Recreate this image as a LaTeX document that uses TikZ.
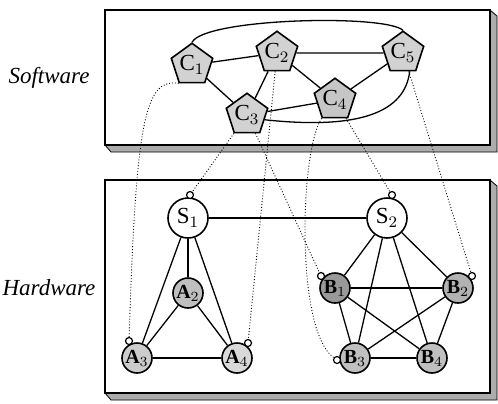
\documentclass[tikz,border=0pt]{standalone}
\usepackage{fontspec}
\setmainfont{Liberation Serif}
\usetikzlibrary{shapes.geometric}
\begin{document}
\begin{tikzpicture}[x=0.5pt,y=-0.5pt,
  comp/.style={regular polygon, regular polygon sides=5, draw, line width=0.8pt,
    fill=gray!35, minimum size=16pt, inner sep=0pt, font=\fontsize{11.5}{11.5}\selectfont},
  sw/.style={circle, draw, line width=0.8pt, fill=white, minimum size=20pt,
    inner sep=0pt, font=\fontsize{11.5}{11.5}\selectfont},
  hw/.style={circle, draw, line width=0.8pt, minimum size=15pt, inner sep=0pt,
    font=\fontsize{10}{10}\selectfont\bfseries},
  port/.style={circle, draw, line width=0.6pt, fill=white, minimum size=3.5pt, inner sep=0pt},
  link/.style={line width=0.65pt},
  map/.style={densely dotted, line width=0.45pt},
  layer/.style={draw, line width=0.8pt, fill=white},
  slab/.style={fill=gray!65, draw=black, line width=0.4pt},
  tag/.style={font=\fontsize{11.5}{13}\selectfont\itshape}
]
\useasboundingbox (0,0) rectangle (498,403);

% the two layers with their raised edges
\fill[slab] (105,145) -- (490,145) -- (490,10) -- (497,16) -- (497,152) -- (111,152) -- cycle;
\draw[layer] (105,10) rectangle (490,145);
\fill[slab] (105,393) -- (490,393) -- (490,180) -- (497,186) -- (497,400) -- (111,400) -- cycle;
\draw[layer] (105,180) rectangle (490,393);

\node[tag] (swlabel) at (49,78) {Software};
\node[tag] (hwlabel) at (49,288) {Hardware};

% software components
\node[comp] (C1) at (192,65) {C$_1$};
\node[comp] (C2) at (277,53) {C$_2$};
\node[comp] (C5) at (403,53) {C$_5$};
\node[comp, fill=gray!45] (C4) at (335,100) {C$_4$};
\node[comp] (C3) at (247,115) {C$_3$};

% hardware: switches and processing nodes
\node[sw] (S1) at (188,218) {S$_1$};
\node[sw] (S2) at (387,218) {S$_2$};
\node[hw, fill=gray!50] (A2) at (188,293) {A$_2$};
\node[hw, fill=gray!40] (A3) at (137,358) {A$_3$};
\node[hw, fill=gray!30] (A4) at (237,358) {A$_4$};
\node[hw, fill=gray!80] (B1) at (335,288) {B$_1$};
\node[hw, fill=gray!60] (B2) at (458,288) {B$_2$};
\node[hw, fill=gray!50] (B3) at (355,358) {B$_3$};
\node[hw, fill=gray!50] (B4) at (432,358) {B$_4$};

% ports
\node[port] (pS1) at (190,195) {};
\node[port] (pS2) at (392,195) {};
\node[port] (pA3) at (129,341) {};
\node[port] (pA4) at (248,343) {};
\node[port] (pB1) at (321,276) {};
\node[port] (pB2) at (472,276) {};
\node[port] (pB3) at (337,360) {};

% software links
\draw[link] (C1) -- (C2);
\draw[link] (C2) -- (C5);
\draw[link] (C1) -- (C3);
\draw[link] (C2) -- (C3);
\draw[link] (C2) -- (C4);
\draw[link] (C3) -- (C4);
\draw[link] (C4) -- (C5);
\draw[link] (C1.north) .. controls (205,18) and (385,14) .. (C5.north);
\draw[link] (C3.-15) .. controls (360,130) and (405,112) .. (C5.-70);

% hardware links
\draw[link] (S1) -- (S2);
\draw[link] (S1) -- (A3);
\draw[link] (S1) -- (A2);
\draw[link] (S1) -- (A4);
\draw[link] (A2) -- (A3);
\draw[link] (A2) -- (A4);
\draw[link] (A3) -- (A4);
\draw[link] (S2) -- (B1);
\draw[link] (S2) -- (B2);
\draw[link] (S2) -- (B3);
\draw[link] (S2) -- (B4);
\draw[link] (B1) -- (B2);
\draw[link] (B1) -- (B3);
\draw[link] (B1) -- (B4);
\draw[link] (B2) -- (B3);
\draw[link] (B2) -- (B4);
\draw[link] (B3) -- (B4);

% mapping of components onto hardware
\draw[map] (C1.234) .. controls (145,78) and (136,120) .. (pA3);
\draw[map] (C3) -- (pS1);
\draw[map] (C2) -- (pA4);
\draw[map] (C3) -- (pB1);
\draw[map] (C4.234) .. controls (300,150) and (295,330) .. (pB3);
\draw[map] (C4) -- (pS2);
\draw[map] (C5) -- (pB2);
\end{tikzpicture}
\end{document}
